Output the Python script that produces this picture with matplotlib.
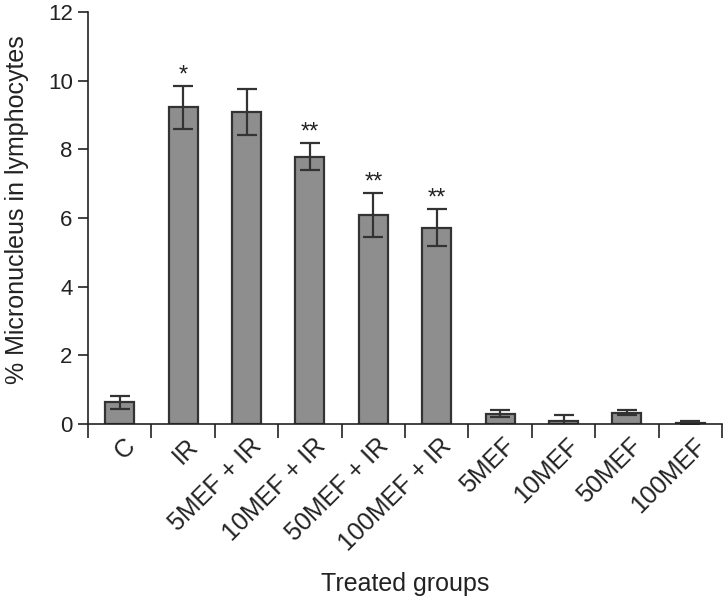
import matplotlib.pyplot as plt
import matplotlib.transforms as mtransforms
import numpy as np

plt.rcParams['font.family'] = ['Liberation Sans', 'DejaVu Sans']

# Data
groups = ['C', 'IR', '5MEF + IR', '10MEF + IR', '50MEF + IR', '100MEF + IR',
          '5MEF', '10MEF', '50MEF', '100MEF']
means = [0.63, 9.22, 9.09, 7.79, 6.08, 5.71, 0.30, 0.10, 0.33, 0.04]
errors = [0.18, 0.62, 0.66, 0.39, 0.64, 0.54, 0.11, 0.17, 0.07, 0.04]
stars = ['', '*', '', '**', '**', '**', '', '', '', '']

x = np.arange(len(groups))

fig = plt.figure(figsize=(7.25, 5.97), dpi=100)
ax = fig.add_axes([88/725, 1 - 424/597, 634/725, 412/597])

ax.bar(x, means, 0.46, color='#8e8e8e', edgecolor='#333333', linewidth=1.6,
       yerr=errors, capsize=7,
       error_kw=dict(ecolor='#333333', elinewidth=1.6, capthick=1.6))

# significance marks
for xi, m, e, s in zip(x, means, errors, stars):
    if s:
        ax.text(xi, m + e, s, ha='center', va='bottom',
                fontsize=17, color='#222222')

ax.set_xlim(-0.5, len(groups) - 0.5)
ax.set_ylim(0, 12)
ax.set_yticks(np.arange(0, 13, 2))
ax.tick_params(axis='y', labelsize=16, length=7, width=1.2, colors='#222222', pad=4)

# ticks between categories
ax.set_xticks(np.arange(-0.5, len(groups), 1.0))
ax.set_xticklabels([])
ax.tick_params(axis='x', length=10, width=1.2, colors='#222222')
ax.set_xticks(x, minor=True)
ax.set_xticklabels(groups, minor=True, rotation=45, ha='right', va='top',
                   rotation_mode='anchor', fontsize=18, color='#222222')
ax.tick_params(axis='x', which='minor', length=0, pad=7)
shift = mtransforms.ScaledTranslation(3/100, 0, fig.dpi_scale_trans)
for lbl in ax.get_xticklabels(minor=True):
    lbl.set_transform(lbl.get_transform() + shift)

for side in ['top', 'right']:
    ax.spines[side].set_visible(False)
for side in ['left', 'bottom']:
    ax.spines[side].set_linewidth(1.2)
    ax.spines[side].set_color('#222222')

ax.set_ylabel('% Micronucleus in lymphocytes', fontsize=18, color='#222222')
ax.yaxis.set_label_coords(-0.093, 0.52)
ax.set_xlabel('Treated groups', fontsize=18, color='#222222')
ax.xaxis.set_label_coords(0.5, -0.36)

fig.savefig('out.png', dpi=100)
